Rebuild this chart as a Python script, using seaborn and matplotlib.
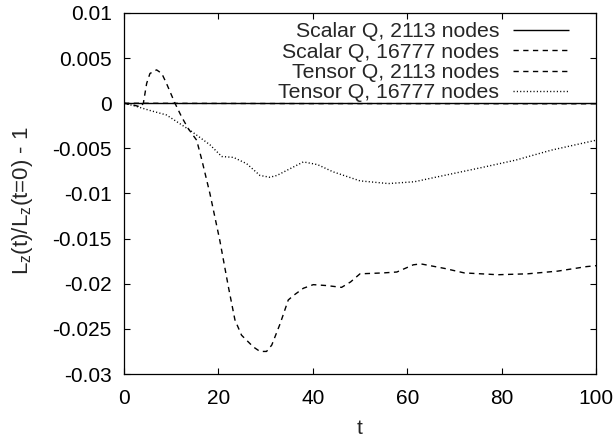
import numpy as np
import pandas as pd
import matplotlib
matplotlib.use("Agg")
import matplotlib.pyplot as plt
import seaborn as sns

# ---- data ----
t_scalar = [0, 20, 40, 60, 80, 100]
scalar_2113 = [0.0, 0.0, 0.0, 0.0, 0.0, 0.0]
scalar_16777 = [0.0, -0.00002, -0.00004, -0.00004, -0.00005, -0.00006]

t_tensor_2113 = [0, 2, 3.5, 4.1, 4.8, 5.5, 6.9, 8.0, 9.0, 10.8, 12.2, 13.6, 15.4, 16.5,
                 18.2, 20.3, 22.1, 23.5, 24.9, 27.4, 28.8, 30.2, 31.3, 33.1, 34.8, 35.9,
                 38.0, 40.1, 42.9, 46.1, 48.0, 50.0, 54.9, 57.8, 61.3, 62.9, 67.9, 72.1,
                 79.2, 85.5, 91.9, 98.0, 100]
tensor_2113 = [0.0, -0.0002, -0.0004, 0.0, 0.0022, 0.0033, 0.0037, 0.0033, 0.0022, 0.0,
               -0.0015, -0.0028, -0.0041, -0.0063, -0.0100, -0.0152, -0.0203, -0.0240,
               -0.0257, -0.0270, -0.0275, -0.0275, -0.0268, -0.0244, -0.0218, -0.0213,
               -0.0205, -0.0201, -0.0202, -0.0204, -0.0198, -0.0189, -0.0188, -0.0187,
               -0.0179, -0.0178, -0.0183, -0.0188, -0.0190, -0.0189, -0.0186, -0.0181, -0.0180]

t_tensor_16777 = [0, 2.3, 5.5, 9.0, 14.0, 18.2, 20.7, 23.2, 26.0, 28.8, 30.9, 32.4, 35.0,
                  38.0, 41.0, 44.3, 50.0, 56.0, 61.5, 66.0, 76.0, 83.0, 90.5, 100]
tensor_16777 = [0.0, -0.0003, -0.0008, -0.0013, -0.0030, -0.0046, -0.0059, -0.0060,
                -0.0067, -0.0080, -0.0082, -0.0080, -0.0073, -0.0065, -0.0068, -0.0076,
                -0.0086, -0.0089, -0.0087, -0.0082, -0.0071, -0.0063, -0.0052, -0.0041]

labels = ["Scalar Q, 2113 nodes", "Scalar Q, 16777 nodes",
          "Tensor Q, 2113 nodes", "Tensor Q, 16777 nodes"]
x_ticks = [0, 20, 40, 60, 80, 100]
y_ticks = [0.01, 0.005, 0, -0.005, -0.01, -0.015, -0.02, -0.025, -0.03]
y_tick_labels = ["0.01", "0.005", "0", "-0.005", "-0.01", "-0.015", "-0.02", "-0.025", "-0.03"]

# ---- styling ----
sns.set_style("ticks")
plt.rcParams["font.family"] = ["Liberation Sans", "DejaVu Sans"]
plt.rcParams["mathtext.fontset"] = "custom"
plt.rcParams["mathtext.rm"] = "Liberation Sans"
plt.rcParams["mathtext.it"] = "Liberation Sans"
plt.rcParams["font.size"] = 15

fig = plt.figure(figsize=(6.15, 4.4), dpi=100)
ax = fig.add_axes([124 / 615, 66 / 440, 472 / 615, 361 / 440])

DASH = (0, (3.8, 3.2))
DOT = (0, (0.8, 1.6))
series = [
    (t_scalar, scalar_2113, labels[0], (0, ())),
    (t_scalar, scalar_16777, labels[1], DASH),
    (t_tensor_2113, tensor_2113, labels[2], DASH),
    (t_tensor_16777, tensor_16777, labels[3], DOT),
]
for tx, vy, lab, ls in series:
    df = pd.DataFrame({"t": tx, "v": vy})
    sns.lineplot(data=df, x="t", y="v", ax=ax, color="black", linewidth=1.0,
                 label=lab, estimator=None, sort=True)
    ax.lines[-1].set_linestyle(ls)

ax.set_xlim(0, 100)
ax.set_ylim(-0.03, 0.01)
ax.set_xticks(x_ticks)
ax.set_xticklabels([str(v) for v in x_ticks])
ax.set_yticks(y_ticks)
ax.set_yticklabels(y_tick_labels)
ax.tick_params(direction="in", length=4, width=0.8, top=True, right=True,
               labelsize=15, colors="black")
ax.tick_params(axis="y", pad=9)
ax.tick_params(axis="x", pad=11)
for s in ax.spines.values():
    s.set_visible(True)
    s.set_linewidth(0.9)
    s.set_color("black")

ax.set_xlabel("t", fontsize=15)
ax.set_ylabel(r"L$_\mathrm{z}$(t)/L$_\mathrm{z}$(t=0) - 1", fontsize=16)
ax.xaxis.set_label_coords(0.5, -0.124)
ax.yaxis.set_label_coords(-0.189, 0.479)

handles, labs = ax.get_legend_handles_labels()
for h, (_, _, _, ls) in zip(handles, series):
    h.set_linestyle(ls)
leg = ax.legend(handles, labs, loc="upper right", bbox_to_anchor=(0.9434, 0.975),
                frameon=False, markerfirst=False,
                handlelength=2.66, handletextpad=0.63, labelspacing=0.07,
                borderaxespad=0.0, borderpad=0.0, fontsize=15.3)

fig.savefig("out.png", dpi=100)
